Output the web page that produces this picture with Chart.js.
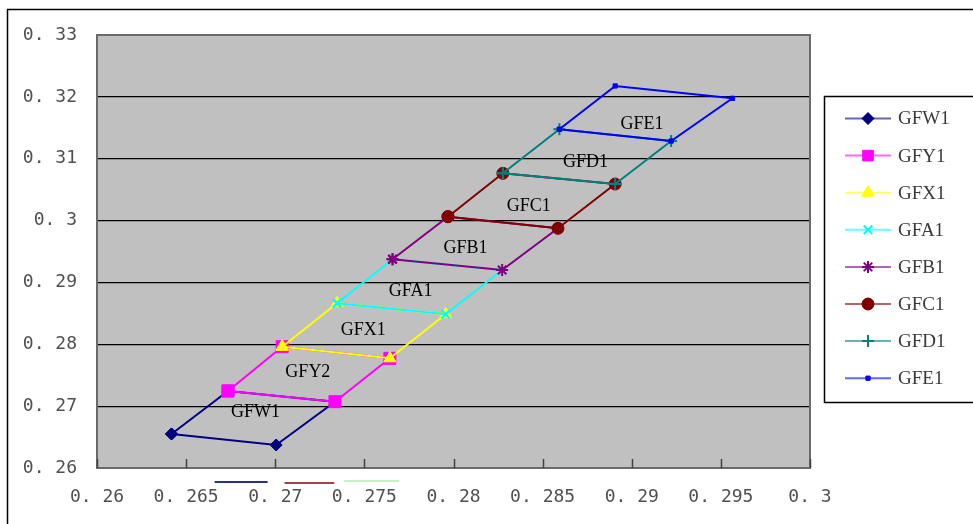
<!DOCTYPE html>
<html>
<head>
<meta charset="utf-8">
<script src="https://cdn.jsdelivr.net/npm/chart.js@4/dist/chart.umd.min.js"></script>
<style>
html,body{margin:0;padding:0;background:#fff;}
canvas{display:block;}
</style>
</head>
<body>
<canvas id="c" width="973" height="524"></canvas>
<script>
// Series names (legend) and region labels
const seriesNames = ['GFW1','GFY1','GFX1','GFA1','GFB1','GFC1','GFD1','GFE1'];
const regionLabels = ['GFW1','GFY2','GFX1','GFA1','GFB1','GFC1','GFD1','GFE1'];
// Corner points (left and right) of the stacked boundaries, bottom to top
const leftX  = [0.26418, 0.26735, 0.27039, 0.27347, 0.27658, 0.27969, 0.28277, 0.28594, 0.28907];
const leftY  = [0.26550, 0.27245, 0.27961, 0.28663, 0.29374, 0.30063, 0.30764, 0.31475, 0.32176];
const rightX = [0.27005, 0.27335, 0.27643, 0.27956, 0.28273, 0.28586, 0.28907, 0.29221, 0.29565];
const rightY = [0.26372, 0.27072, 0.27773, 0.28485, 0.29201, 0.29875, 0.30591, 0.31286, 0.31977];
// Region label anchor values
const labelX = [0.26889, 0.27183, 0.27494, 0.27759, 0.28067, 0.28422, 0.28741, 0.29057];
const labelY = [0.26905, 0.27552, 0.28231, 0.28853, 0.29549, 0.30224, 0.30947, 0.31553];
// Axis ticks
const xTickValues = [0.26, 0.265, 0.27, 0.275, 0.28, 0.285, 0.29, 0.295, 0.3];
const xTickLabels = ['0. 26','0. 265','0. 27','0. 275','0. 28','0. 285','0. 29','0. 295','0. 3'];
const yTickValues = [0.26, 0.27, 0.28, 0.29, 0.3, 0.31, 0.32, 0.33];
const yTickLabels = ['0. 26','0. 27','0. 28','0. 29','0. 3','0. 31','0. 32','0. 33'];

const colors = ['#000080','#FF00FF','#FFFF00','#00FFFF','#800080','#800000','#008080','#0000FF'];
const styles = ['rectRot','rect','triangle','crossRot','star','circle','cross','rect'];
const radii  = [6, 8.5, 7, 6, 6, 6, 6, 3];

const datasets = seriesNames.map((name, i) => ({
  label: name,
  data: [
    {x: leftX[i], y: leftY[i]},
    {x: rightX[i], y: rightY[i]},
    {x: rightX[i+1], y: rightY[i+1]},
    {x: leftX[i+1], y: leftY[i+1]},
    {x: leftX[i], y: leftY[i]}
  ],
  showLine: true,
  borderColor: colors[i],
  backgroundColor: colors[i],
  borderWidth: 2,
  pointStyle: styles[i],
  pointRadius: radii[i],
  pointBorderWidth: (styles[i]==='crossRot'||styles[i]==='cross'||styles[i]==='star') ? 2 : 1,
  pointBorderColor: colors[i],
  pointBackgroundColor: colors[i],
  order: seriesNames.length - 1 - i
}));

const strayLines = [
  {x0: 0.2666, x1: 0.26957, dy: 14, color: '#2b2b9a'},
  {x0: 0.27052, x1: 0.27331, dy: 15, color: '#a04848'},
  {x0: 0.27387, x1: 0.27695, dy: 13, color: '#c4f2c4'}
];

const decor = {
  id: 'decor',
  beforeDraw(chart) {
    const {ctx, chartArea: a} = chart;
    ctx.save();
    ctx.fillStyle = '#fff';
    ctx.fillRect(0, 0, chart.width, chart.height);
    ctx.strokeStyle = '#000';
    ctx.lineWidth = 1.5;
    ctx.strokeRect(7.5, 9.5, chart.width + 10, chart.height + 10);
    ctx.fillStyle = '#c0c0c0';
    ctx.fillRect(a.left, a.top, a.right - a.left, a.bottom - a.top);
    ctx.restore();
  },
  afterDatasetsDraw(chart) {
    const {ctx, chartArea: a, scales} = chart;
    ctx.save();
    // region labels
    ctx.fillStyle = '#000';
    ctx.font = '18px "Liberation Serif"';
    ctx.textAlign = 'center';
    ctx.textBaseline = 'middle';
    regionLabels.forEach((t, i) => {
      ctx.fillText(t, scales.x.getPixelForValue(labelX[i]), scales.y.getPixelForValue(labelY[i]));
    });
    // plot frame
    ctx.strokeStyle = '#6a6a6a';
    ctx.lineWidth = 2;
    ctx.strokeRect(a.left, a.top, a.right - a.left, a.bottom - a.top);
    // inside ticks on x axis
    ctx.strokeStyle = '#404040';
    ctx.lineWidth = 1.5;
    xTickValues.forEach(v => {
      const px = Math.round(scales.x.getPixelForValue(v)) + 0.5;
      ctx.beginPath();
      ctx.moveTo(px, a.bottom);
      ctx.lineTo(px, a.bottom - 9);
      ctx.stroke();
    });
    ctx.restore();
  },
  afterDraw(chart) {
    const {ctx, chartArea: a, scales} = chart;
    ctx.save();
    // stray short lines under the axis
    strayLines.forEach(s => {
      ctx.strokeStyle = s.color;
      ctx.lineWidth = 2;
      ctx.beginPath();
      ctx.moveTo(scales.x.getPixelForValue(s.x0), a.bottom + s.dy);
      ctx.lineTo(scales.x.getPixelForValue(s.x1), a.bottom + s.dy);
      ctx.stroke();
    });
    // legend box
    const bx = 824.5, by = 96.5, bh = 306;
    ctx.strokeStyle = '#000';
    ctx.lineWidth = 1.5;
    ctx.strokeRect(bx, by, 200, bh);
    datasets.forEach((d, i) => {
      const y = 118.5 + i * 37.1;
      ctx.globalAlpha = 0.6;
      ctx.strokeStyle = d.borderColor;
      ctx.lineWidth = 2;
      ctx.beginPath();
      ctx.moveTo(845, y);
      ctx.lineTo(891, y);
      ctx.stroke();
      ctx.globalAlpha = 1;
      ctx.fillStyle = d.backgroundColor;
      ctx.strokeStyle = d.borderColor;
      ctx.lineWidth = d.pointBorderWidth;
      Chart.helpers.drawPoint(ctx, {pointStyle: d.pointStyle, radius: d.pointStyle==='rect' && i===1 ? 7.5 : d.pointRadius, rotation: 0, borderWidth: d.pointBorderWidth}, 868, y);
      ctx.fillStyle = '#3a3a3a';
      ctx.font = '19px "Liberation Serif"';
      ctx.textAlign = 'left';
      ctx.textBaseline = 'middle';
      ctx.fillText(d.label, 898, y + 1);
    });
    ctx.restore();
  }
};

new Chart(document.getElementById('c'), {
  type: 'scatter',
  data: { datasets },
  options: {
    responsive: false,
    animation: false,
    devicePixelRatio: 1,
    layout: { padding: { left: 0, top: 35, right: 163, bottom: 0 } },
    plugins: { legend: { display: false }, tooltip: { enabled: false } },
    scales: {
      x: {
        type: 'linear',
        min: 0.26, max: 0.3,
        afterBuildTicks: s => { s.ticks = xTickValues.map(v => ({value: v})); },
        afterFit: s => { s.height = 56; },
        grid: { display: false },
        border: { display: false },
        ticks: {
          callback: (v, i) => xTickLabels[i],
          font: { family: '"DejaVu Sans Mono"', size: 18 },
          color: '#505050',
          padding: 11,
          maxRotation: 0,
          autoSkip: false
        }
      },
      y: {
        type: 'linear',
        min: 0.26, max: 0.33,
        afterBuildTicks: s => { s.ticks = yTickValues.map(v => ({value: v})); },
        afterFit: s => { s.width = 97; },
        grid: { color: '#000', lineWidth: 1.2, drawTicks: false },
        border: { display: false },
        ticks: {
          callback: (v, i) => yTickLabels[i],
          font: { family: '"DejaVu Sans Mono"', size: 18 },
          color: '#505050',
          padding: 20,
          autoSkip: false
        }
      }
    }
  },
  plugins: [decor]
});
</script>
</body>
</html>
